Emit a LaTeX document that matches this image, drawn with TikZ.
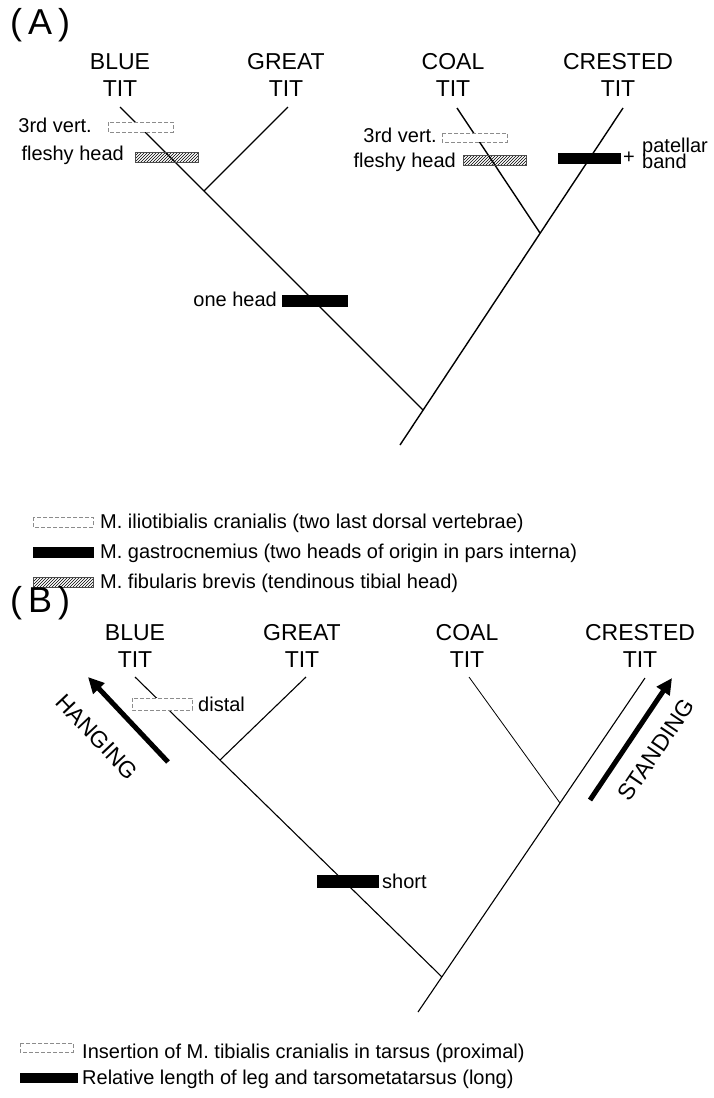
\documentclass[tikz,border=0pt]{standalone}
\usepackage{fontspec}
\setmainfont{Liberation Sans}
\usetikzlibrary{patterns,arrows.meta}
\begin{document}
\begin{tikzpicture}[x=1pt,y=-1pt,
  branchA/.style={line width=1.4pt},
  branchB/.style={line width=1.1pt},
  taxon/.style={align=center,anchor=south,inner sep=0pt,font=\fontsize{23}{27}\selectfont},
  panel/.style={anchor=north west,inner sep=0pt,font=\fontsize{36}{40}\selectfont},
  small/.style={inner sep=0pt,font=\fontsize{20}{24}\selectfont},
  openbar/.style={draw=black!45,line width=0.6pt,dash pattern=on 4pt off 2pt,fill=white},
  blackbar/.style={fill=black,draw=black,line width=0.4pt},
  hatchbar/.style={pattern=north east lines,draw=black!70,line width=0.5pt},
  trend/.style={line width=5pt,-{Triangle[length=16pt,width=15pt]}}]
\useasboundingbox (0,0) rectangle (713,1098);

% ---------------- Panel A ----------------
\node[panel] (labA) at (10,8) {(\kern6pt A\kern6pt)};

\coordinate (aB) at (120,107);
\coordinate (aG) at (288,107);
\coordinate (aC) at (457,108);
\coordinate (aR) at (623,108);
\coordinate (aBG) at (204,191);
\coordinate (aCR) at (540,233);
\coordinate (aRoot) at (423,410);
\coordinate (aBot) at (400,445);

\node[taxon] (tA1) at (120,97) {BLUE\\TIT};
\node[taxon] (tA2) at (286,97) {GREAT\\TIT};
\node[taxon] (tA3) at (453,97) {COAL\\TIT};
\node[taxon] (tA4) at (618,97) {CRESTED\\TIT};

\draw[branchA] (aB) -- (aRoot);
\draw[branchA] (aG) -- (aBG);
\draw[branchA] (aR) -- (aBot);
\draw[branchA] (aC) -- (aCR);

% characters on the branches
\draw[openbar] (108,122) rectangle (173,132);
\draw[hatchbar] (135,152) rectangle (198,162);
\draw[openbar] (442,133) rectangle (507,142);
\draw[hatchbar] (463,155) rectangle (526,165);
\draw[blackbar] (558,153) rectangle (620,163);
\draw[blackbar] (282,295) rectangle (347,306);

\node[small,anchor=base east] (a3v1) at (92,132) {3rd vert.};
\node[small,anchor=base east] (afh1) at (124,160) {fleshy head};
\node[small,anchor=base east] (a3v2) at (437,142) {3rd vert.};
\node[small,anchor=base east] (afh2) at (456,167) {fleshy head};
\node[small,anchor=base east] (aone) at (277,306) {one head};
\node[small] (aplus) at (629,158) {+};
\node[small,anchor=base west] (apat) at (642,152) {patellar};
\node[small,anchor=base west] (aband) at (642,168) {band};

% legend A
\draw[openbar] (33,517) rectangle (93,527);
\draw[blackbar] (33,547) rectangle (93,557);
\draw[hatchbar] (33,577) rectangle (93,587);
\node[small,anchor=base west] (lA1) at (100,528) {M. iliotibialis cranialis (two last dorsal vertebrae)};
\node[small,anchor=base west] (lA2) at (100,558) {M. gastrocnemius (two heads of origin in pars interna)};
\node[small,anchor=base west] (lA3) at (100,588) {M. fibularis brevis (tendinous tibial head)};

% ---------------- Panel B ----------------
\node[panel] (labB) at (10,586) {(\kern6pt B\kern6pt)};

\coordinate (bB) at (135,677);
\coordinate (bG) at (306,677);
\coordinate (bC) at (469,677);
\coordinate (bR) at (645,678);
\coordinate (bBG) at (220,760);
\coordinate (bCR) at (560,803);
\coordinate (bRoot) at (442,977);
\coordinate (bBot) at (418,1012);

\node[taxon] (tB1) at (135,668) {BLUE\\TIT};
\node[taxon] (tB2) at (302,668) {GREAT\\TIT};
\node[taxon] (tB3) at (467,668) {COAL\\TIT};
\node[taxon] (tB4) at (640,668) {CRESTED\\TIT};

\draw[branchB] (bB) -- (bRoot);
\draw[branchB] (bG) -- (bBG);
\draw[branchB] (bR) -- (bBot);
\draw[line width=0.8pt] (bC) -- (bCR);

\draw[openbar] (132,698) rectangle (192,710);
\node[small,anchor=base west] (bdist) at (198,711) {distal};
\draw[blackbar] (317,875) rectangle (378,887);
\node[small,anchor=base west] (bshort) at (382,888) {short};

% trends along the tree
\coordinate (hT) at (168,762);
\coordinate (hH) at (88,677);
\coordinate (sT) at (590,800);
\coordinate (sH) at (672,678);
\draw[trend] (hT) -- (hH);
\draw[trend] (sT) -- (sH);
\node[taxon,anchor=center,rotate=-46.7] (hang) at (97,737) {HANGING};
\node[taxon,anchor=center,rotate=56] (stand) at (656,750) {STANDING};

% legend B
\draw[openbar] (20,1043) rectangle (73,1052);
\draw[blackbar] (20,1073) rectangle (77,1082);
\node[small,anchor=base west] (lB1) at (82,1058) {Insertion of M. tibialis cranialis in tarsus (proximal)};
\node[small,anchor=base west] (lB2) at (82,1084) {Relative length of leg and tarsometatarsus (long)};
\end{tikzpicture}
\end{document}
